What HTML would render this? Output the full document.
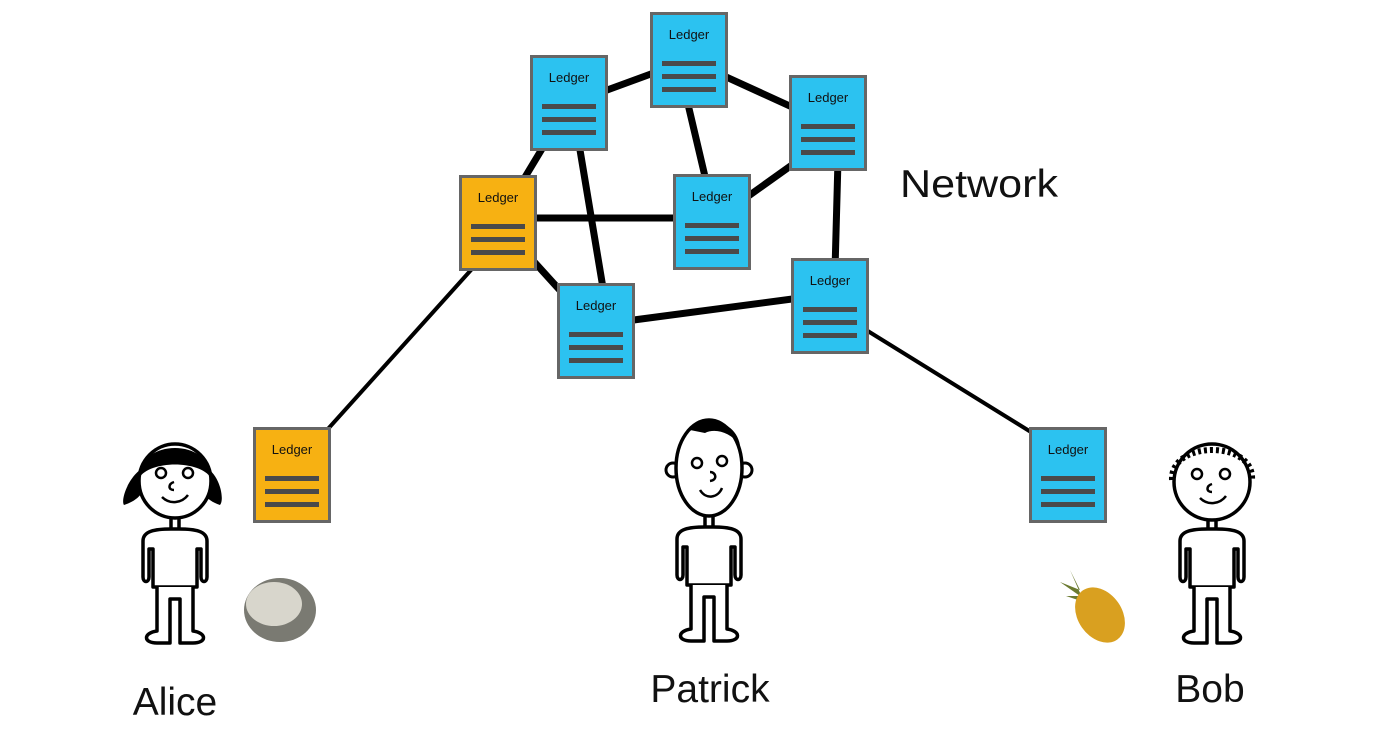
<!DOCTYPE html>
<html><head><meta charset="utf-8"><style>
html,body{margin:0;padding:0;background:#fff;width:1400px;height:738px;overflow:hidden}
svg{display:block}
text{font-family:"Liberation Sans",sans-serif}
</style></head><body>
<svg width="1400" height="738" viewBox="0 0 1400 738" xmlns="http://www.w3.org/2000/svg">
<defs>
<g id="lb">
 <rect x="1.5" y="1.5" width="75" height="93" stroke="#666" stroke-width="3"/>
 <text x="39" y="27" font-size="13" text-anchor="middle" fill="#111">Ledger</text>
 <rect x="12" y="49" width="54" height="5" fill="#4a4a4a"/>
 <rect x="12" y="62" width="54" height="5" fill="#4a4a4a"/>
 <rect x="12" y="75" width="54" height="5" fill="#4a4a4a"/>
</g>
<g id="body" fill="#fff" stroke="#000" stroke-width="3.5" stroke-linejoin="round">
 <path d="M-4,0 L-4,12 M4,0 L4,12"/>
 <path d="M -4,12 C -20,12 -32,14 -32,24 L -32,60 C -32,66 -26,66 -26,60 L -26,32 L -22,32 L -22,70 L 22,70 L 22,32 L 26,32 L 26,60 C 26,66 32,66 32,60 L 32,24 C 32,14 20,12 4,12 Z"/>
 <path d="M -18,70 L -18,114 C -32,116 -32,126 -18,126 L -5,126 L -5,82 L 5,82 L 5,126 L 18,126 C 32,126 32,116 18,114 L 18,70"/>
</g>
</defs>
<g stroke="#000" stroke-linecap="round">
 <g stroke-width="7">
  <line x1="569" y1="104" x2="689" y2="60"/>
  <line x1="689" y1="60" x2="827" y2="123"/>
  <line x1="687" y1="100" x2="707" y2="185"/>
  <line x1="827" y1="140" x2="712" y2="222"/>
  <line x1="838" y1="160" x2="835" y2="270"/>
  <line x1="569" y1="104" x2="498" y2="222"/>
  <line x1="575" y1="120" x2="605" y2="300"/>
  <line x1="498" y1="218" x2="712" y2="218"/>
  <line x1="498" y1="222" x2="596" y2="330"/>
  <line x1="596" y1="325" x2="830" y2="294"/>
 </g>
 <g stroke-width="4">
  <line x1="480" y1="260" x2="300" y2="460"/>
  <line x1="850" y1="320" x2="1060" y2="450"/>
 </g>
</g>
<use href="#lb" x="530" y="55" fill="#2cc2f0"/>
<use href="#lb" x="650" y="12" fill="#2cc2f0"/>
<use href="#lb" x="789" y="75" fill="#2cc2f0"/>
<use href="#lb" x="459" y="175" fill="#f7b112"/>
<use href="#lb" x="673" y="174" fill="#2cc2f0"/>
<use href="#lb" x="557" y="283" fill="#2cc2f0"/>
<use href="#lb" x="791" y="258" fill="#2cc2f0"/>
<use href="#lb" x="253" y="427" fill="#f7b112"/>
<use href="#lb" x="1029" y="427" fill="#2cc2f0"/>
<text x="900" y="197" font-size="39" fill="#111" textLength="158" lengthAdjust="spacingAndGlyphs">Network</text>
<text x="175" y="715" font-size="39" text-anchor="middle" fill="#111">Alice</text>
<text x="710" y="702" font-size="39" text-anchor="middle" fill="#111">Patrick</text>
<text x="1210" y="702" font-size="39" text-anchor="middle" fill="#111">Bob</text>
<!-- Alice -->
<path d="M150,465 C130,470 120,500 124,505 C140,500 145,490 148,480 Z M200,465 C220,470 225,500 220,505 C205,500 200,490 198,480 Z" fill="#000"/>
<use href="#body" x="175" y="517"/>
<ellipse cx="175" cy="481" rx="36" ry="37" fill="#fff" stroke="#000" stroke-width="3.5"/>
<path d="M139,478 C139,438 211,438 211,478 C200,460 150,460 139,478 Z" fill="#000"/>
<circle cx="161" cy="473" r="5" fill="none" stroke="#000" stroke-width="2.5"/><circle cx="188" cy="473" r="5" fill="none" stroke="#000" stroke-width="2.5"/>
<path d="M174,482 c-6,2 -6,8 0,8 M162,497 c8,8 20,6 26,-2" fill="none" stroke="#000" stroke-width="2.5"/>
<!-- Patrick -->
<use href="#body" x="709" y="515"/>
<circle cx="673" cy="470" r="7" fill="#fff" stroke="#000" stroke-width="3"/><circle cx="745" cy="470" r="7" fill="#fff" stroke="#000" stroke-width="3"/>
<ellipse cx="709" cy="468" rx="33" ry="48" fill="#fff" stroke="#000" stroke-width="3.5"/>
<path d="M690,430 C700,415 735,418 740,445 C730,432 715,428 705,433 Z" fill="#000"/>
<circle cx="697" cy="463" r="5" fill="none" stroke="#000" stroke-width="2.5"/><circle cx="722" cy="461" r="5" fill="none" stroke="#000" stroke-width="2.5"/>
<path d="M710,472 c6,0 8,8 0,9 M700,490 c6,10 18,8 22,-2" fill="none" stroke="#000" stroke-width="2.5"/>
<!-- Bob -->
<use href="#body" x="1212" y="517"/>
<ellipse cx="1212" cy="482" rx="38" ry="38" fill="#fff" stroke="#000" stroke-width="3.5"/>
<path d="M1172,480 C1170,440 1255,440 1252,480" fill="none" stroke="#000" stroke-width="6" stroke-dasharray="3 3"/>
<circle cx="1197" cy="474" r="5" fill="none" stroke="#000" stroke-width="2.5"/><circle cx="1225" cy="474" r="5" fill="none" stroke="#000" stroke-width="2.5"/>
<path d="M1212,484 c-6,2 -6,8 0,8 M1200,498 c8,8 20,6 26,-2" fill="none" stroke="#000" stroke-width="2.5"/>
<!-- coconut -->
<ellipse cx="280" cy="610" rx="36" ry="32" fill="#7a7a72"/>
<ellipse cx="274" cy="604" rx="28" ry="22" fill="#d8d6cc"/>
<!-- pineapple -->
<path d="M1070,570 l10,20 l-20,-8 l20,14 l-14,0 l18,6 z" fill="#6b7a30"/>
<ellipse cx="1100" cy="615" rx="22" ry="30" transform="rotate(-35 1100 615)" fill="#d9a020"/>
</svg>
</body></html>
